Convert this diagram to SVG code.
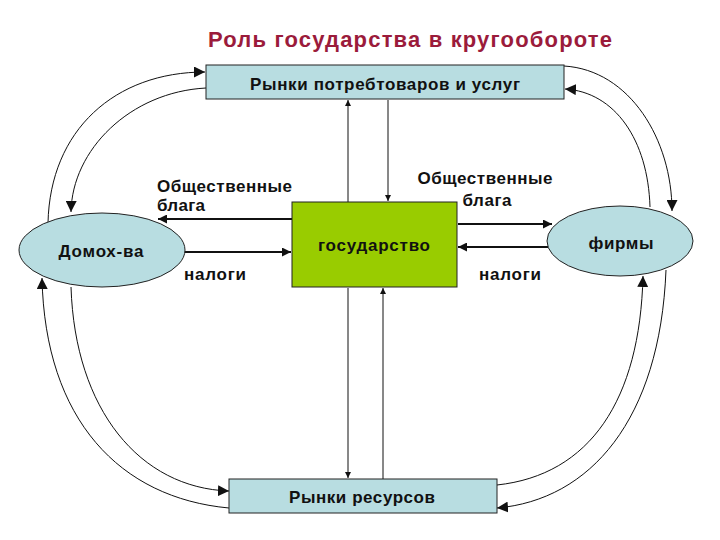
<svg xmlns="http://www.w3.org/2000/svg" width="720" height="540" viewBox="0 0 720 540">
<style>
text{font-family:"Liberation Sans",Arial,sans-serif;font-size:17px;font-weight:bold;fill:#111}
.title{font-size:22px;font-weight:bold;fill:#9B1B3B}
.box{fill:#B8DDE1;stroke:#222;stroke-width:1}
.gov{fill:#99CC00;stroke:#222;stroke-width:1}
.ell{fill:#B8DDE1;stroke:#222;stroke-width:1}
.ln{fill:none;stroke:#111;stroke-width:1.8}
.vl{fill:none;stroke:#111;stroke-width:1}
.cv{fill:none;stroke:#111;stroke-width:1}
</style>
<defs>
<marker id="a" viewBox="0 0 10 10" refX="10" refY="5" markerWidth="6" markerHeight="6" markerUnits="userSpaceOnUse" orient="auto"><path d="M0,0L10,5L0,10z" fill="#111"/></marker>
<marker id="as" viewBox="0 0 10 10" refX="10" refY="5" markerWidth="9" markerHeight="9" markerUnits="userSpaceOnUse" orient="auto"><path d="M0,0L10,5L0,10z" fill="#111"/></marker>
<marker id="ab" viewBox="0 0 10 10" refX="10" refY="5" markerWidth="11" markerHeight="11" markerUnits="userSpaceOnUse" orient="auto"><path d="M0,0L10,5L0,10z" fill="#111"/></marker>
</defs>
<rect width="720" height="540" fill="#fff"/>
<text class="title" x="410" y="47" text-anchor="middle" textLength="404">Роль государства в кругообороте</text>

<g id="connectors">
  <line class="ln" x1="292" y1="219" x2="158" y2="219" marker-end="url(#as)"/>
  <line class="ln" x1="184" y1="252" x2="291" y2="252" marker-end="url(#as)"/>
  <line class="ln" x1="458" y1="224" x2="552" y2="224" marker-end="url(#as)"/>
  <line class="ln" x1="548" y1="247" x2="458" y2="247" marker-end="url(#as)"/>
  <line class="vl" x1="348" y1="202" x2="348" y2="100" marker-end="url(#a)"/>
  <line class="vl" x1="388" y1="100" x2="388" y2="201" marker-end="url(#a)"/>
  <line class="vl" x1="348" y1="288" x2="348" y2="478" marker-end="url(#a)"/>
  <line class="vl" x1="383" y1="479" x2="383" y2="288" marker-end="url(#a)"/>
  <path class="cv" d="M48,223 C50,130 115,72 205,72" marker-end="url(#ab)"/>
  <path class="cv" d="M206,88 C130,92 72,150 71,212" marker-end="url(#ab)"/>
  <path class="cv" d="M564,66 C630,70 672,140 672,211" marker-end="url(#ab)"/>
  <path class="cv" d="M650,207 C648,140 615,92 565,89" marker-end="url(#ab)"/>
  <path class="cv" d="M229,508 C120,498 45,420 42,278" marker-end="url(#ab)"/>
  <path class="cv" d="M71,287 C75,410 140,488 229,491" marker-end="url(#ab)"/>
  <path class="cv" d="M497,485 C590,475 640,400 643,276" marker-end="url(#ab)"/>
  <path class="cv" d="M666,270 C660,420 590,500 497,508" marker-end="url(#ab)"/>
</g>

<g id="consumer-market">
  <rect class="box" x="206" y="65" width="358" height="34"/>
  <text x="385" y="90" text-anchor="middle" textLength="270">Рынки потребтоваров и услуг</text>
</g>
<g id="state">
  <rect class="gov" x="292" y="202" width="165" height="85"/>
  <text x="374" y="251" text-anchor="middle" textLength="112">государство</text>
</g>
<g id="resource-market">
  <rect class="box" x="229" y="479" width="268" height="34"/>
  <text x="362" y="503" text-anchor="middle" textLength="146">Рынки ресурсов</text>
</g>
<g id="households">
  <ellipse class="ell" cx="102" cy="250" rx="83" ry="37"/>
  <text x="101" y="257" text-anchor="middle" textLength="85">Домох-ва</text>
</g>
<g id="firms">
  <ellipse class="ell" cx="620" cy="241" rx="73" ry="35"/>
  <text x="621" y="249" text-anchor="middle" textLength="65">фирмы</text>
</g>

<g id="labels">
  <text x="157" y="192" textLength="135">Общественные</text>
  <text x="157" y="211" textLength="48">блага</text>
  <text x="184" y="280" textLength="62">налоги</text>
  <text x="485" y="184" text-anchor="middle" textLength="135">Общественные</text>
  <text x="487" y="206" text-anchor="middle" textLength="49">блага</text>
  <text x="479" y="280" textLength="62">налоги</text>
</g>
</svg>
